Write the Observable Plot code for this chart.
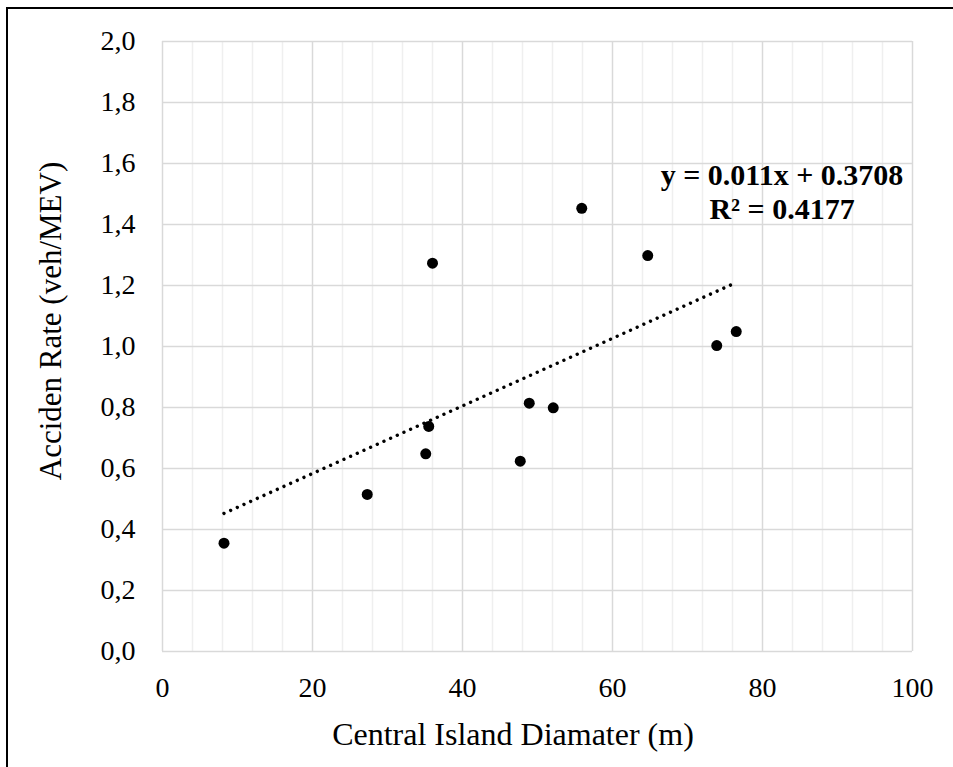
<!DOCTYPE html>
<html>
<head>
<meta charset="utf-8">
<script src="https://cdn.jsdelivr.net/npm/d3@7"></script>
<script src="https://cdn.jsdelivr.net/npm/@observablehq/plot@0.6"></script>
<style>
  html, body { margin: 0; padding: 0; background: #fff; }
  #wrap { position: relative; width: 953px; height: 767px; overflow: hidden; font-family: "Liberation Serif", "Times New Roman", serif; }
  #frame { position: absolute; left: 6px; top: 7px; width: 1000px; height: 800px; border-left: 2px solid #000; border-top: 2px solid #000; box-sizing: border-box; pointer-events: none; }
  #chart { position: absolute; left: 0; top: 0; }
  .xlab { position: absolute; left: 513px; top: 750px; transform: translate(-50%, -100%); font-size: 32px; white-space: nowrap; line-height: 1; color: #000; }
  .ylab { position: absolute; left: 50px; top: 321px; transform: translate(-50%, -50%) rotate(-90deg); transform-origin: 50% 50%; font-size: 31px; line-height: 1; white-space: nowrap; color: #000; }
</style>
</head>
<body>
<div id="wrap">
  <div id="chart"></div>
  <div id="frame"></div>
  <div class="xlab">Central Island Diamater (m)</div>
  <div class="ylab" id="ylab">Acciden Rate (veh/MEV)</div>
</div>
<script>
// Data
const diameter = [8.2, 27.3, 35.1, 35.5, 36.0, 47.7, 48.9, 52.1, 55.9, 64.7, 73.9, 76.5];
const accidentRate = [0.355, 0.515, 0.648, 0.738, 1.273, 0.624, 0.814, 0.799, 1.453, 1.298, 1.003, 1.049];

const xTicks = [0, 20, 40, 60, 80, 100];
const xTickLabels = ["0", "20", "40", "60", "80", "100"];
const xMinorTicks = [4, 8, 12, 16, 24, 28, 32, 36, 44, 48, 52, 56, 64, 68, 72, 76, 84, 88, 92, 96];
const yTicks = [0, 0.2, 0.4, 0.6, 0.8, 1.0, 1.2, 1.4, 1.6, 1.8, 2.0];
const yTickLabels = ["0,0", "0,2", "0,4", "0,6", "0,8", "1,0", "1,2", "1,4", "1,6", "1,8", "2,0"];

const equationText = ["y = 0.011x + 0.3708\nR\u00B2 = 0.4177"];
const equationPos = {x: 82.6, y: 1.51};

const data = diameter.map((d, i) => ({x: d, y: accidentRate[i]}));

const font = '"Liberation Serif", "Times New Roman", serif';

const chart = Plot.plot({
  width: 953,
  height: 767,
  marginLeft: 162,
  marginRight: 41,
  marginTop: 41,
  marginBottom: 116,
  style: {fontFamily: font, fontSize: "28px", color: "#000", background: "transparent", overflow: "visible"},
  x: {domain: [0, 100]},
  y: {domain: [0, 2]},
  marks: [
    Plot.ruleX(xMinorTicks, {stroke: "#efefef", strokeWidth: 1.5}),
    Plot.ruleX(xTicks, {stroke: "#d9d9d9", strokeWidth: 1.5}),
    Plot.ruleY(yTicks, {stroke: "#d9d9d9", strokeWidth: 1.5}),
    Plot.axisX({
      ticks: xTicks,
      tickSize: 0,
      tickPadding: 26,
      tickFormat: d => xTickLabels[xTicks.indexOf(d)],
      label: null,
      fontSize: 28
    }),
    Plot.axisY({
      ticks: yTicks,
      tickSize: 0,
      tickPadding: 27,
      tickFormat: d => yTickLabels[yTicks.indexOf(d)],
      label: null,
      fontSize: 28
    }),
    Plot.linearRegressionY(data, {
      x: "x", y: "y", ci: 0,
      stroke: "#000", strokeWidth: 3.4,
      strokeDasharray: "0.01 7.3", strokeLinecap: "round"
    }),
    Plot.dot(data, {x: "x", y: "y", r: 5.5, fill: "#000", stroke: "none"}),
    Plot.text(equationText, {
      x: () => equationPos.x, y: () => equationPos.y,
      text: d => d,
      fontSize: 30, fontWeight: "bold", textAnchor: "middle",
      lineHeight: 1.13, fill: "#000"
    })
  ]
});
document.getElementById("chart").appendChild(chart);
</script>
</body>
</html>
